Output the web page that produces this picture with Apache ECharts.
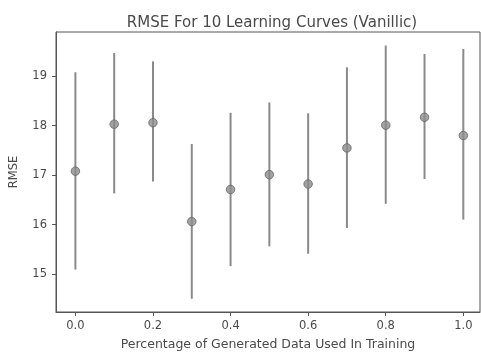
<!DOCTYPE html>
<html>
<head>
<meta charset="utf-8">
<script src="https://cdn.jsdelivr.net/npm/echarts@6/dist/echarts.min.js"></script>
<style>
  html, body { margin: 0; padding: 0; background: #fff; }
  #main { width: 481px; height: 356px; }
</style>
</head>
<body>
<div id="main"></div>
<script>
// percentage of generated data (x positions)
var pct = [0.0, 0.1, 0.2, 0.3, 0.4, 0.5, 0.6, 0.7, 0.8, 0.9, 1.0];
// mean RMSE and error bar ends
var rmseMean = [17.08, 18.03, 18.06, 16.06, 16.71, 17.01, 16.82, 17.55, 18.01, 18.17, 17.80];
var rmseLow  = [15.09, 16.63, 16.87, 14.50, 15.16, 15.56, 15.41, 15.93, 16.42, 16.92, 16.10];
var rmseHigh = [19.08, 19.47, 19.30, 17.63, 18.26, 18.47, 18.25, 19.18, 19.62, 19.45, 19.55];
var xTicks = [0.0, 0.2, 0.4, 0.6, 0.8, 1.0];
var yTicks = [15, 16, 17, 18, 19];

var dom = document.getElementById("main");
var myChart = echarts.init(dom, null, { renderer: "canvas" });

var barData = [];
var pointData = [];
for (var i = 0; i < pct.length; i++) {
  barData.push([pct[i], rmseLow[i], rmseHigh[i]]);
  pointData.push([pct[i], rmseMean[i]]);
}

var txt = "#4a4a4a";
var font = "DejaVu Sans";

var option = {
  animation: false,
  backgroundColor: "#fff",
  title: {
    text: "RMSE For 10 Learning Curves (Vanillic)",
    left: 267,
    top: 11,
    textAlign: "center",
    textStyle: { fontFamily: font, fontSize: 15, fontWeight: "normal", color: txt },
  },
  grid: {
    left: 55,
    right: 1,
    top: 32,
    bottom: 41,
    show: true,
    borderColor: "#555",
    borderWidth: 1,
  },
  xAxis: {
    type: "value",
    min: -0.05,
    max: 1.043,
    name: "Percentage of Generated Data Used In Training",
    nameLocation: "middle",
    nameGap: 26,
    nameTextStyle: { fontFamily: font, fontSize: 12.5, color: txt },
    splitLine: { show: false },
    axisLine: { show: true, onZero: false, lineStyle: { color: "#555" } },
    axisTick: {
      show: true,
      length: 4,
      customValues: xTicks,
      lineStyle: { color: "#555" },
    },
    axisLabel: {
      customValues: xTicks,
      margin: 8,
      fontFamily: font,
      fontSize: 11.5,
      color: txt,
      formatter: function (v) { return v.toFixed(1); },
    },
  },
  yAxis: {
    type: "value",
    min: 14.232,
    max: 19.894,
    name: "RMSE",
    nameLocation: "middle",
    nameGap: 36,
    nameTextStyle: { fontFamily: font, fontSize: 11.5, color: txt },
    splitLine: { show: false },
    axisLine: { show: true, onZero: false, lineStyle: { color: "#555" } },
    axisTick: {
      show: true,
      length: 4,
      customValues: yTicks,
      lineStyle: { color: "#555" },
    },
    axisLabel: {
      customValues: yTicks,
      margin: 9,
      fontFamily: font,
      fontSize: 11.5,
      color: txt,
    },
  },
  series: [
    {
      name: "errbar",
      type: "custom",
      data: barData,
      encode: { x: 0, y: [1, 2] },
      renderItem: function (params, api) {
        var p1 = api.coord([api.value(0), api.value(1)]);
        var p2 = api.coord([api.value(0), api.value(2)]);
        return {
          type: "line",
          shape: { x1: p1[0], y1: p1[1], x2: p2[0], y2: p2[1] },
          style: { stroke: "#8a8a8a", lineWidth: 2 },
        };
      },
      z: 2,
    },
    {
      name: "mean",
      type: "scatter",
      data: pointData,
      symbol: "circle",
      symbolSize: 8.5,
      itemStyle: { color: "#8c8c8c", borderColor: "#666", borderWidth: 1 },
      z: 3,
    },
  ],
};

myChart.setOption(option);
</script>
</body>
</html>
